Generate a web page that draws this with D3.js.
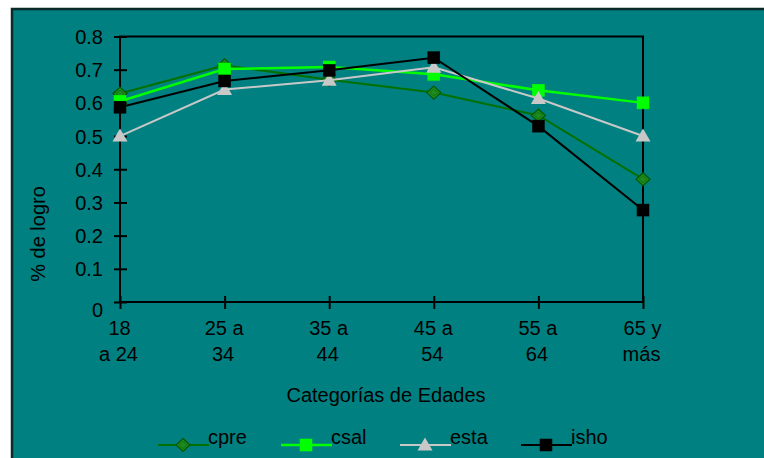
<!DOCTYPE html>
<html><head><meta charset="utf-8">
<script src="https://cdn.jsdelivr.net/npm/d3@7/dist/d3.min.js"></script>
<style>body{margin:0;background:#fff}svg{display:block}text{font-family:"Liberation Sans",Arial,sans-serif;fill:#000}</style>
</head><body><svg id="c" width="764" height="458"></svg>
<script>
const categories = ["18|a 24","25 a|34","35 a|44","45 a|54","55 a|64","65 y|más"];
const yTicks = [0,0.1,0.2,0.3,0.4,0.5,0.6,0.7,0.8];
const cpre = [0.628,0.713,0.670,0.631,0.562,0.370];
const csal = [0.605,0.702,0.708,0.686,0.638,0.600];
const esta = [0.500,0.640,0.668,0.707,0.613,0.500];
const isho = [0.587,0.666,0.698,0.736,0.530,0.277];
const seriesNames = ["cpre","csal","esta","isho"];

const series = [
  {name:"cpre", values:cpre, color:"#007000", width:2, marker:"diamond", fill:"#1f8a1f", stroke:"#005a00"},
  {name:"csal", values:csal, color:"#00ff00", width:2.5, marker:"square", fill:"#00ff00", stroke:"#00ff00"},
  {name:"esta", values:esta, color:"#c8c8c8", width:2, marker:"triangle", fill:"#c8c8c8", stroke:"#c8c8c8"},
  {name:"isho", values:isho, color:"#000000", width:2, marker:"square", fill:"#000000", stroke:"#000000"}
];
const FS = "20px";

const svg = d3.select("#c");
svg.append("rect").attr("x",12).attr("y",9).attr("width",760).attr("height",460)
  .attr("fill","#008080").attr("stroke","#0a2a2a").attr("stroke-width",2.5);

const x = d3.scalePoint().domain(categories).range([120,643]);
const y = d3.scaleLinear().domain([0,0.8]).range([302,36.5]);

svg.append("rect").attr("x",120).attr("y",y(0.8)).attr("width",643-120).attr("height",y(0)-y(0.8))
  .attr("fill","none").attr("stroke","#000").attr("stroke-width",2);

const yAxis = d3.axisLeft(y).tickValues(yTicks).tickFormat(d=>d===0?"0":d3.format(".1f")(d)).tickSize(6);
const gy = svg.append("g").attr("transform","translate(120,0)").call(yAxis);
gy.select(".domain").remove();
gy.selectAll(".tick line").attr("x1",-6).attr("x2",7).attr("stroke","#000").attr("stroke-width",2);
gy.selectAll(".tick text").attr("x",-17).attr("font-size",FS).attr("fill","#000")
  .attr("font-family","Liberation Sans, Arial, sans-serif")
  .attr("dy", d=> d===0 ? "0.7em" : "0.35em");

const xAxis = d3.axisBottom(x).tickSize(6);
const gx = svg.append("g").attr("transform","translate(0,302)").call(xAxis);
gx.select(".domain").remove();
gx.selectAll(".tick line").attr("y1",-6).attr("y2",7).attr("stroke","#000").attr("stroke-width",2);
gx.selectAll(".tick text").remove();
gx.selectAll(".tick").each(function(d){
  const parts = d.split("|");
  const t = d3.select(this).append("text").attr("text-anchor","middle").attr("font-size",FS)
    .attr("font-family","Liberation Sans, Arial, sans-serif").attr("fill","#000");
  t.append("tspan").attr("x",-1).attr("y",33).text(parts[0]);
  t.append("tspan").attr("x",-2).attr("y",59).text(parts[1]);
});

svg.append("text").attr("x",386).attr("y",402).attr("text-anchor","middle").attr("font-size",FS).text("Categorías de Edades");
svg.append("text").attr("transform","translate(45,234) rotate(-90)").attr("text-anchor","middle").attr("font-size",FS).text("% de logro");

function drawMarker(g, type, cx, cy, s){
  if(type==="square"){
    g.append("rect").attr("x",cx-6).attr("y",cy-6).attr("width",12).attr("height",12)
      .attr("fill",s.fill).attr("stroke",s.stroke).attr("stroke-width",0.5);
  } else if(type==="diamond"){
    g.append("path").attr("d",`M${cx},${cy-6.5}L${cx+7},${cy}L${cx},${cy+6.5}L${cx-7},${cy}Z`)
      .attr("fill",s.fill).attr("stroke",s.stroke).attr("stroke-width",1.2);
    g.append("path").attr("d",`M${cx},${cy-3.5}L${cx+4},${cy}L${cx},${cy+3.5}L${cx-4},${cy}Z`)
      .attr("fill","none").attr("stroke","#0d6e0d").attr("stroke-width",0.8);
  } else {
    g.append("path").attr("d",`M${cx},${cy-7.5}L${cx+7.5},${cy+5.5}L${cx-7.5},${cy+5.5}Z`)
      .attr("fill",s.fill);
  }
}

const line = d3.line().x((d,i)=>x(categories[i])).y(d=>y(d));
series.forEach(s=>{
  const g = svg.append("g");
  g.append("path").datum(s.values).attr("d",line).attr("fill","none")
    .attr("stroke",s.color).attr("stroke-width",s.width);
  s.values.forEach((v,i)=>drawMarker(g, s.marker, x(categories[i]), y(v), s));
});

const legX = [158,281,400,521];
series.forEach((s,i)=>{
  const g = svg.append("g");
  const x0 = legX[i], ly = 445;
  g.append("line").attr("x1",x0).attr("x2",x0+51).attr("y1",ly).attr("y2",ly)
    .attr("stroke",s.color).attr("stroke-width",s.width);
  drawMarker(g, s.marker, x0+25, ly, s);
  g.append("text").attr("x",x0+50).attr("y",444).attr("font-size",FS).text(seriesNames[i]);
});
</script></body></html>
